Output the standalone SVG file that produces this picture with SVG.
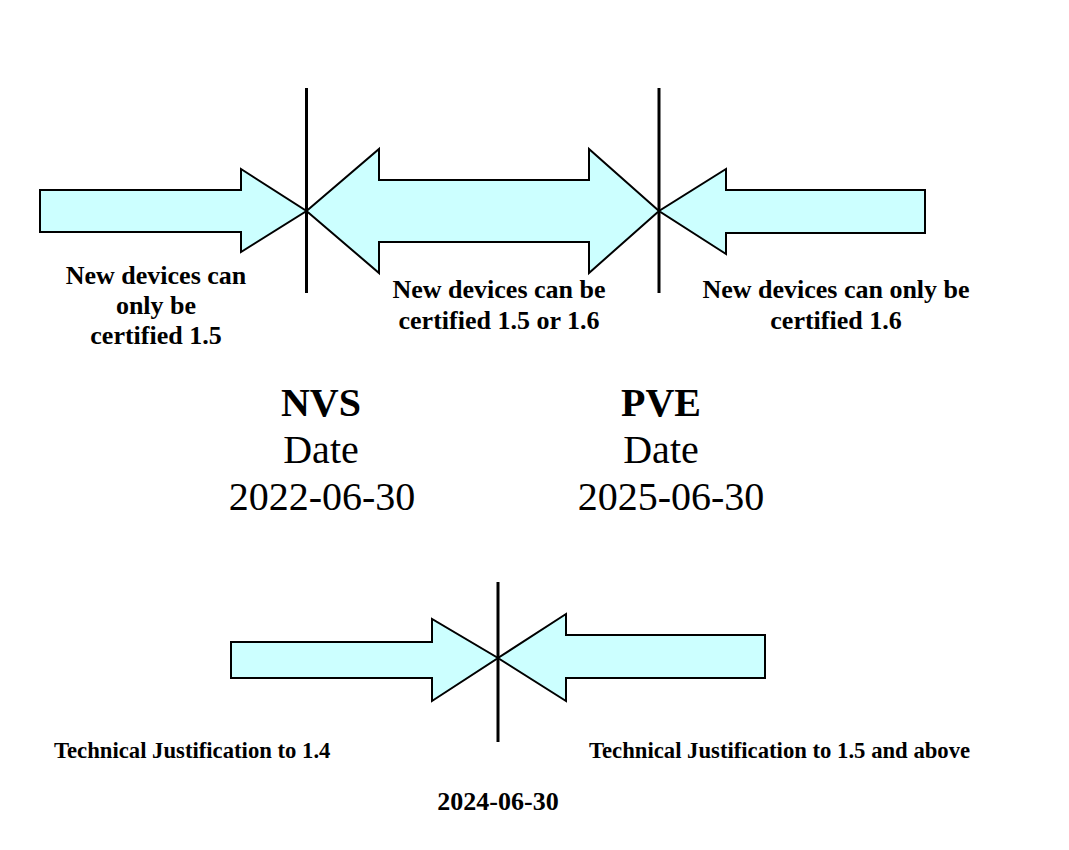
<svg xmlns="http://www.w3.org/2000/svg" width="1069" height="850" viewBox="0 0 1069 850">
<style>
.arrow{fill:#ccffff;stroke:#000;stroke-width:2;stroke-linejoin:miter}
.vline{stroke:#000;stroke-width:3}
.lbl{font-family:"Liberation Serif","Times New Roman",serif;font-weight:bold;font-size:26px;fill:#000;text-anchor:middle}
.sm{font-family:"Liberation Serif","Times New Roman",serif;font-weight:bold;font-size:22.7px;fill:#000}
.big{font-family:"Liberation Serif","Times New Roman",serif;font-size:40px;fill:#000;text-anchor:middle}
.bigb{font-weight:bold}
</style>
<rect width="1069" height="850" fill="#fff"/>
<g id="connectors">
<line class="vline" x1="306.5" y1="88" x2="306.5" y2="293"/>
<line class="vline" x1="659" y1="88" x2="659" y2="293"/>
<line class="vline" x1="498" y1="582" x2="498" y2="742"/>
</g>
<g id="arrow-before-nvs">
<polygon class="arrow" points="40,190 241,190 241,169 306.5,211 241,252 241,232 40,232"/>
</g>
<g id="arrow-between">
<polygon class="arrow" points="306.5,211 379,149 379,180 589,180 589,149 659,211 589,273 589,242 379,242 379,273"/>
</g>
<g id="arrow-after-pve">
<polygon class="arrow" points="925,190 726,190 726,169 659,211 726,254 726,233 925,233"/>
</g>
<g id="arrow-tj-left">
<polygon class="arrow" points="231,642 432,642 432,619 498,658 432,701 432,678 231,678"/>
</g>
<g id="arrow-tj-right">
<polygon class="arrow" points="765,635 566,635 566,614 498,658 566,701 566,678 765,678"/>
</g>
<g id="label-before">
<text class="lbl" x="156" y="284">New devices can</text>
<text class="lbl" x="156" y="314">only be</text>
<text class="lbl" x="156" y="344">certified 1.5</text>
</g>
<g id="label-between">
<text class="lbl" x="499" y="298">New devices can be</text>
<text class="lbl" x="499" y="329">certified 1.5 or 1.6</text>
</g>
<g id="label-after">
<text class="lbl" x="836" y="298">New devices can only be</text>
<text class="lbl" x="836" y="329">certified 1.6</text>
</g>
<g id="nvs">
<text class="big bigb" x="321" y="416">NVS</text>
<text class="big" x="321" y="463">Date</text>
<text class="big" x="322" y="510">2022-06-30</text>
</g>
<g id="pve">
<text class="big bigb" x="661" y="416">PVE</text>
<text class="big" x="661" y="463">Date</text>
<text class="big" x="671" y="510">2025-06-30</text>
</g>
<g id="tj">
<text class="sm" x="54" y="758">Technical Justification to 1.4</text>
<text class="sm" x="589" y="758">Technical Justification to 1.5 and above</text>
<text class="lbl" x="498" y="810">2024-06-30</text>
</g>
</svg>
